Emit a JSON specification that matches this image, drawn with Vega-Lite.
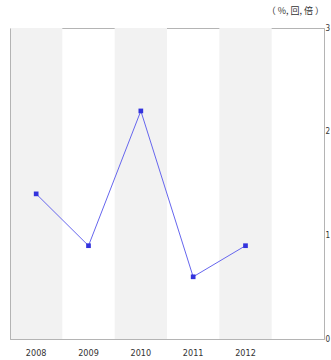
{
  "$schema": "https://vega.github.io/schema/vega-lite/v6.json",
  "width": 314,
  "height": 311,
  "autosize": {"type": "none"},
  "padding": {"left": 10, "top": 28, "right": 7, "bottom": 21},
  "background": "#ffffff",
  "config": {
    "view": {"stroke": "#b4b4b4", "strokeWidth": 1},
    "font": "DejaVu Sans Condensed"
  },
  "title": {
    "text": "（ %, 回, 倍 ）",
    "anchor": "end",
    "frame": "group",
    "fontSize": 9,
    "fontWeight": "normal",
    "color": "#333333",
    "offset": 8,
    "font": "Noto Sans CJK JP"
  },
  "datasets": {
    "series": [
      {"year": "2008", "value": 1.4},
      {"year": "2009", "value": 0.9},
      {"year": "2010", "value": 2.2},
      {"year": "2011", "value": 0.6},
      {"year": "2012", "value": 0.9}
    ],
    "bands": [
      {"year": "2008"},
      {"year": "2010"},
      {"year": "2012"}
    ]
  },
  "resolve": {"axis": {"y": "independent"}},
  "encoding": {
    "x": {
      "field": "year",
      "type": "ordinal",
      "scale": {"domain": ["2008", "2009", "2010", "2011", "2012", " "], "paddingInner": 0, "paddingOuter": 0},
      "axis": {
        "title": null,
        "labelAngle": 0,
        "ticks": false,
        "domain": true,
        "domainColor": "#b4b4b4",
        "zindex": 1,
        "labelPadding": 9,
        "labelFontSize": 9,
        "labelColor": "#333333"
      }
    }
  },
  "layer": [
    {
      "data": {"name": "bands"},
      "mark": {"type": "rect", "color": "#f2f2f2"},
      "encoding": {}
    },
    {
      "data": {"name": "series"},
      "mark": {"type": "line", "color": "#6666ee", "strokeWidth": 1},
      "encoding": {
        "y": {
          "field": "value",
          "type": "quantitative",
          "scale": {"domain": [0, 3], "nice": false},
          "axis": {
            "orient": "right",
            "title": null,
            "values": [0, 1, 2, 3],
            "ticks": false,
            "domain": true,
            "domainColor": "#b4b4b4",
            "zindex": 1,
            "grid": false,
            "labelPadding": 1,
            "labelFontSize": 8,
            "labelColor": "#333333"
          }
        }
      }
    },
    {
      "data": {"name": "series"},
      "mark": {"type": "square", "color": "#3333dd", "size": 22, "opacity": 1, "filled": true},
      "encoding": {
        "y": {
          "field": "value",
          "type": "quantitative",
          "axis": {
            "orient": "left",
            "title": null,
            "labels": false,
            "ticks": false,
            "grid": false,
            "domain": true,
            "domainColor": "#b4b4b4",
            "zindex": 1
          }
        }
      }
    }
  ]
}
